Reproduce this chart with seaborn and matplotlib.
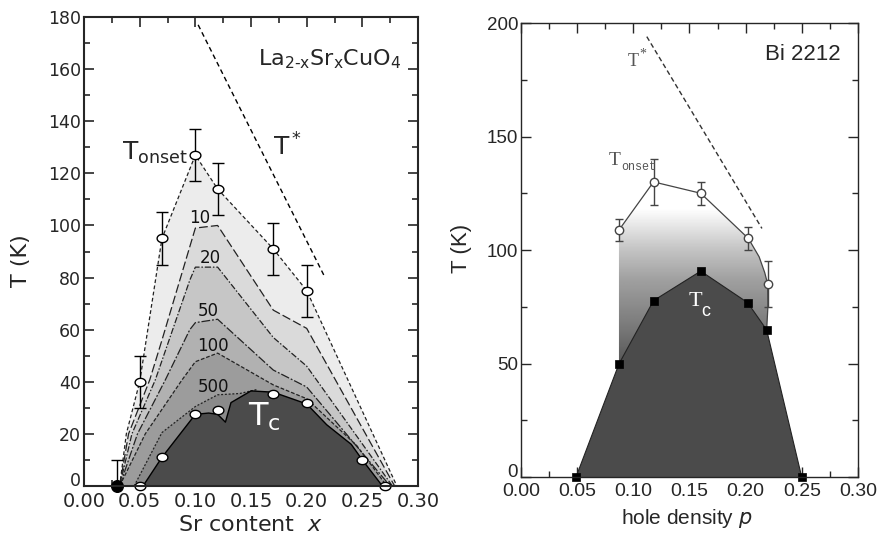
import numpy as np
import matplotlib
matplotlib.use("Agg")
import matplotlib.pyplot as plt
from matplotlib.patches import Polygon
from matplotlib.path import Path
from matplotlib.ticker import MultipleLocator
import seaborn as sns

# ---------------- data : left panel (La2-xSrxCuO4) ----------------
onset_x = [0.05, 0.07, 0.10, 0.12, 0.17, 0.20]
onset_T = [40, 95, 127, 114, 91, 75]
onset_err = [10, 10, 10, 10, 10, 10]
zero_x = [0.03]
zero_T = [0]
zero_err = [10]

tc_pts_x = [0.05, 0.07, 0.10, 0.12, 0.17, 0.20, 0.25, 0.27]
tc_pts_T = [0, 11, 27.5, 29, 35.5, 32, 10, 0]

tc_edge_x = [0.053, 0.07, 0.10, 0.112, 0.12, 0.127, 0.132, 0.15, 0.17, 0.19, 0.20, 0.218, 0.24, 0.25, 0.268]
tc_edge_T = [0, 11, 27.5, 28, 27.5, 24.5, 32, 36.5, 36, 33, 31.5, 23.5, 16, 10, 0]

outer_x = [0.032, 0.038, 0.05, 0.07, 0.10, 0.12, 0.17, 0.20, 0.281]
outer_T = [0, 20, 40, 95, 127, 114, 91, 75, 0]
c10_x = [0.032, 0.040, 0.059, 0.070, 0.100, 0.120, 0.170, 0.200, 0.279]
c10_T = [0, 20, 40.7, 56, 99, 100, 67.5, 60.5, 0]
c20_x = [0.032, 0.043, 0.064, 0.095, 0.100, 0.120, 0.170, 0.200, 0.277]
c20_T = [0, 20, 40.7, 79, 84, 84, 57, 46, 0]
c50_x = [0.032, 0.048, 0.073, 0.095, 0.100, 0.120, 0.170, 0.200, 0.275]
c50_T = [0, 20, 40.7, 60, 62.7, 64, 44.5, 38, 0]
c100_x = [0.032, 0.055, 0.088, 0.100, 0.120, 0.170, 0.200, 0.220, 0.245, 0.272]
c100_T = [0, 20, 40.7, 47.7, 51, 38.8, 33.5, 25.5, 15.5, 0]
c500_x = [0.045, 0.07, 0.10, 0.12, 0.14, 0.155]
c500_T = [0, 20.5, 30.5, 35, 35.5, 37]

tstar_left_x = [0.1025, 0.2165]
tstar_left_T = [177, 80]

contour_labels = ["10", "20", "50", "100", "500"]
contour_label_x = [0.104, 0.113, 0.112, 0.116, 0.116]
contour_label_T = [103, 87.5, 67, 53.7, 38]

# ---------------- data : right panel (Bi 2212) ----------------
bi_onset_x = [0.0872, 0.118, 0.160, 0.2024, 0.2196]
bi_onset_T = [108.8, 130, 125, 105.1, 85]
bi_onset_err = [5, 10, 5, 5, 10]
bi_onset_edge_x = [0.0872, 0.118, 0.160, 0.2024, 0.212, 0.217, 0.2196, 0.2198, 0.2187]
bi_onset_edge_T = [108.8, 130, 125, 105.1, 97, 90, 85, 75, 64.8]

bi_tc_x = [0.049, 0.0872, 0.118, 0.160, 0.2018, 0.2187, 0.2499]
bi_tc_T = [0, 49.8, 77.7, 90.7, 76.8, 64.8, 0]

tstar_right_x = [0.112, 0.2145]
tstar_right_T = [194, 109.5]

# gradient shading levels (temperature -> grey level)
grad_T = [0, 51, 65, 87, 101, 118, 200]
grad_level = [0.33, 0.35, 0.47, 0.63, 0.78, 1.0, 1.0]

# ---------------- figure ----------------
sns.set_style("ticks")
plt.rcParams["font.family"] = ["DejaVu Sans"]
plt.rcParams["mathtext.default"] = "regular"

fig = plt.figure(figsize=(8.78, 5.35), dpi=100)
axL = fig.add_axes([0.0957, 0.0916, 0.3804, 0.8766])
axR = fig.add_axes([0.5934, 0.1084, 0.3838, 0.8486])

t = np.linspace(0, 2 * np.pi, 40)
ellipse = Path(np.column_stack([1.3 * np.cos(t), np.sin(t)]), closed=True)

# ---- left panel fills (outer -> inner) ----
fills = [
    (outer_x, outer_T, "#ececec"),
    (c10_x, c10_T, "#dadada"),
    (c20_x, c20_T, "#c6c6c6"),
    (c50_x, c50_T, "#b1b1b1"),
    (c100_x, c100_T, "#9c9c9c"),
    (c500_x + [c500_x[-1]], c500_T + [0], "#8a8a8a"),
    (tc_edge_x, tc_edge_T, "#4b4b4b"),
]
for xs, ts, col in fills:
    axL.fill(xs, ts, color=col, lw=0, zorder=1)

styles = [
    (outer_x, outer_T, (0, (3, 2))),
    (c10_x, c10_T, (0, (7, 2.5))),
    (c20_x, c20_T, (0, (5, 1.5, 1.2, 1.5))),
    (c50_x, c50_T, (0, (7, 1.5, 1.5, 1.5))),
    (c100_x, c100_T, (0, (3, 1.5))),
    (c500_x, c500_T, (0, (1.6, 1.4))),
]
for xs, ts, ls in styles:
    sns.lineplot(x=xs, y=ts, ax=axL, color="#222222", lw=0.9, linestyle=ls,
                 sort=False, estimator=None, zorder=2)
sns.lineplot(x=tc_edge_x, y=tc_edge_T, ax=axL, color="black", lw=1.0,
             sort=False, estimator=None, zorder=3)
sns.lineplot(x=tstar_left_x, y=tstar_left_T, ax=axL, color="black", lw=1.0,
             linestyle=(0, (3.5, 2.5)), sort=False, estimator=None, zorder=2)

axL.errorbar(onset_x, onset_T, yerr=onset_err, fmt="none", ecolor="black",
             elinewidth=1, capsize=4.5, capthick=1, zorder=4)
axL.errorbar(zero_x, zero_T, yerr=[[0], zero_err], fmt="none", ecolor="black",
             elinewidth=1, capsize=4.5, capthick=1, zorder=4)
sns.scatterplot(x=onset_x, y=onset_T, ax=axL, marker=ellipse, s=60, color="white",
                edgecolor="black", linewidth=1, zorder=5)
sns.scatterplot(x=tc_pts_x, y=tc_pts_T, ax=axL, marker=ellipse, s=60, color="white",
                edgecolor="black", linewidth=1, zorder=5, clip_on=False)
sns.scatterplot(x=zero_x, y=zero_T, ax=axL, marker="o", s=70, color="black",
                edgecolor="black", linewidth=1, zorder=5, clip_on=False)

for lab, lx, lt in zip(contour_labels, contour_label_x, contour_label_T):
    axL.text(lx, lt, lab, ha="center", va="center", fontsize=12, color="#111111", zorder=6)

axL.text(0.064, 128, r"T$_{onset}$", fontsize=18, ha="center", va="center", zorder=6)
axL.text(0.183, 130, r"T$^*$", fontsize=18, ha="center", va="center", zorder=6)
axL.text(0.162, 26.5, r"T$_c$", fontsize=23, color="white", ha="center", va="center", zorder=6)
axL.text(0.221, 164, r"La$_{2\text{-}x}$Sr$_x$CuO$_4$", fontsize=16, ha="center",
         va="center", zorder=6)

axL.set_xlim(0, 0.30)
axL.set_ylim(0, 180)
axL.set_xticks(np.arange(0, 0.301, 0.05))
axL.set_xticklabels([f"{v:.2f}" for v in np.arange(0, 0.301, 0.05)])
axL.set_yticks(np.arange(0, 181, 20))
axL.xaxis.set_minor_locator(MultipleLocator(0.025))
axL.yaxis.set_minor_locator(MultipleLocator(10))
axL.tick_params(which="both", direction="in", top=True, right=True, labelsize=12.5, width=1.2)
axL.tick_params(axis="x", labelsize=14, pad=4)
axL.tick_params(axis="y", pad=2)
axL.tick_params(which="major", length=7)
axL.tick_params(which="minor", length=4)
for sp in axL.spines.values():
    sp.set_linewidth(1.5)
    sp.set_zorder(10)
axL.set_xlabel(r"Sr content  $\it{x}$", fontsize=16)
axL.set_ylabel("T (K)", fontsize=16)
axL.xaxis.set_label_coords(0.497, -0.062)
axL.yaxis.set_label_coords(-0.16, 0.48)
axL.get_yticklabels()[0].set_va("baseline")

# ---- right panel ----
grad_poly_x = [bi_onset_edge_x[0]] + bi_onset_edge_x + [bi_onset_edge_x[-1]]
grad_poly_T = [0] + bi_onset_edge_T + [0]
clip = Polygon(np.column_stack([grad_poly_x, grad_poly_T]), closed=True,
               transform=axR.transData, facecolor="none", edgecolor="none")
axR.add_patch(clip)
Tgrid = np.linspace(0, 200, 400)
gray = np.interp(Tgrid, grad_T, grad_level)
img = np.repeat(gray[:, None], 2, axis=1)
im = axR.imshow(img, extent=[0, 0.30, 0, 200], origin="lower", cmap="gray",
                vmin=0, vmax=1, aspect="auto", zorder=1, interpolation="bilinear")
im.set_clip_path(clip)

axR.fill(bi_tc_x, bi_tc_T, color="#4b4b4b", lw=0, zorder=2)
sns.lineplot(x=bi_tc_x, y=bi_tc_T, ax=axR, color="#222222", lw=0.8,
             sort=False, estimator=None, zorder=3)
sns.lineplot(x=bi_onset_edge_x, y=bi_onset_edge_T, ax=axR, color="#444444", lw=0.9,
             sort=False, estimator=None, zorder=3)
sns.lineplot(x=tstar_right_x, y=tstar_right_T, ax=axR, color="#333333", lw=1.0,
             linestyle=(0, (3.5, 2.2)), sort=False, estimator=None, zorder=3)
axR.errorbar(bi_onset_x, bi_onset_T, yerr=bi_onset_err, fmt="none", ecolor="#444444",
             elinewidth=1, capsize=3, capthick=1, zorder=4)
sns.scatterplot(x=bi_onset_x, y=bi_onset_T, ax=axR, marker="o", s=36, color="white",
                edgecolor="#444444", linewidth=1, zorder=5)
sns.scatterplot(x=bi_tc_x, y=bi_tc_T, ax=axR, marker="s", s=36, color="black",
                edgecolor="black", linewidth=0.5, zorder=5, clip_on=False)

axR.text(0.0835, 139.5, "T", fontsize=14, family="Liberation Serif", color="#555555",
         ha="center", va="center", zorder=6)
axR.text(0.105, 136.5, "onset", fontsize=8.5, family="Liberation Mono", color="#555555",
         ha="center", va="center", zorder=6)
axR.text(0.100, 183, "T", fontsize=13, family="Liberation Serif", color="#555555",
         ha="center", va="center", zorder=6)
axR.text(0.1085, 186.5, "*", fontsize=10, family="Liberation Serif", color="#555555",
         ha="center", va="center", zorder=6)
axR.text(0.1555, 77.5, "T", fontsize=16, family="Liberation Serif", color="white",
         ha="center", va="center", zorder=6)
axR.text(0.1645, 73, "c", fontsize=13, family="Liberation Sans", color="white",
         ha="center", va="center", zorder=6)
axR.text(0.251, 186, "Bi 2212", fontsize=16, family="Liberation Sans",
         ha="center", va="center", zorder=6)

axR.set_xlim(0, 0.30)
axR.set_ylim(0, 200)
axR.set_xticks(np.arange(0, 0.301, 0.05))
axR.set_xticklabels([f"{v:.2f}" for v in np.arange(0, 0.301, 0.05)],
                    family="Liberation Sans")
axR.set_yticks(np.arange(0, 201, 50))
axR.set_yticklabels([str(v) for v in range(0, 201, 50)], family="Liberation Sans")
axR.xaxis.set_minor_locator(MultipleLocator(0.025))
axR.yaxis.set_minor_locator(MultipleLocator(25))
axR.tick_params(which="both", direction="in", top=True, right=True, labelsize=14, width=1.0)
axR.tick_params(axis="y", labelsize=13.5, pad=2)
axR.tick_params(axis="x", pad=4)
axR.tick_params(which="major", length=7)
axR.tick_params(which="minor", length=4)
for sp in axR.spines.values():
    sp.set_linewidth(1.0)
    sp.set_zorder(10)
axR.set_xlabel(r"hole density $\it{p}$", fontsize=15, family="Liberation Sans")
axR.set_ylabel("T (K)", fontsize=16, family="Liberation Sans")
axR.xaxis.set_label_coords(0.493, -0.066)
axR.yaxis.set_label_coords(-0.145, 0.504)
axR.get_yticklabels()[0].set_va("baseline")

fig.savefig("out.png", dpi=100)
